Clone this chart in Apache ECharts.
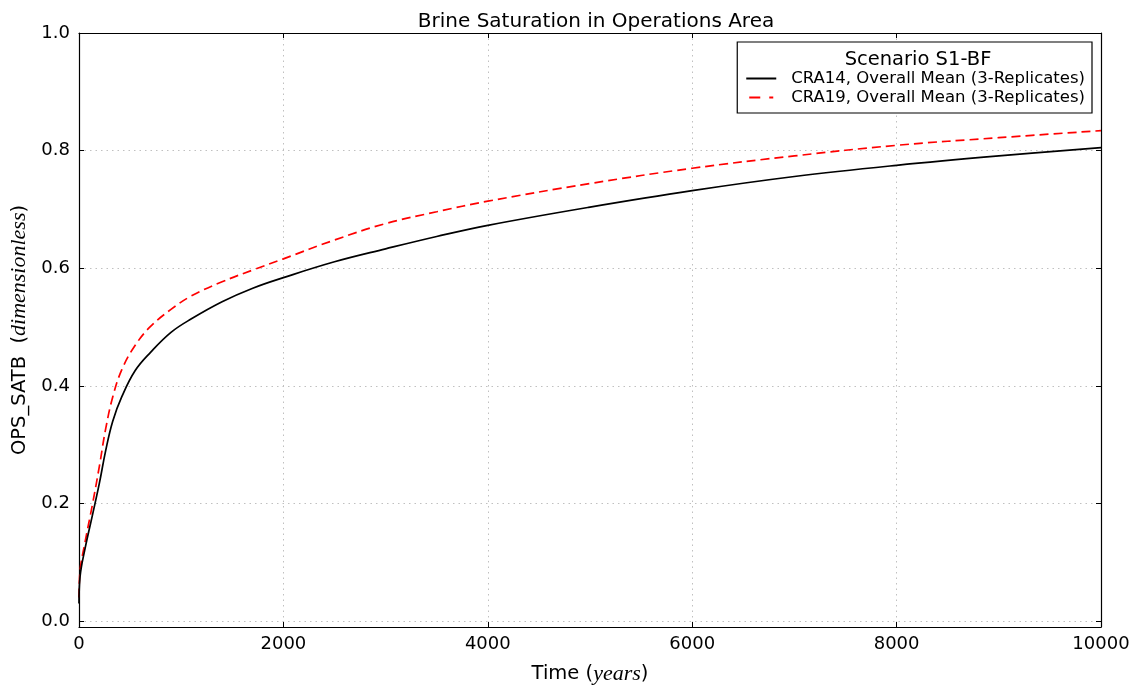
<!DOCTYPE html>
<html>
<head>
<meta charset="utf-8">
<script src="https://cdn.jsdelivr.net/npm/echarts@6/dist/echarts.min.js"></script>
<style>
  html, body { margin: 0; padding: 0; background: #fff; }
  #chart { width: 1138px; height: 686px; }
</style>
</head>
<body>
<div id="chart"></div>
<script>
// Simulation time (years)
const years = [0, 10, 60, 130, 200, 260, 330, 420, 550, 700, 900, 1100, 1400, 1700,
  2000, 2500, 3000, 3500, 4000, 5000, 6000, 7000, 8000, 9000, 10000];
// Overall mean brine saturation, CRA14
const cra14 = [0.030, 0.075, 0.124, 0.179, 0.235, 0.289, 0.340, 0.382, 0.426, 0.457, 0.491, 0.514, 0.543, 0.566,
  0.584, 0.611, 0.633, 0.654, 0.673, 0.704, 0.732, 0.756, 0.775, 0.791, 0.805];
// Overall mean brine saturation, CRA19
const cra19 = [0.040, 0.085, 0.135, 0.197, 0.264, 0.326, 0.381, 0.428, 0.469, 0.501, 0.530, 0.553, 0.577, 0.597,
  0.616, 0.648, 0.676, 0.696, 0.714, 0.744, 0.770, 0.791, 0.809, 0.822, 0.834];
const seriesNames = ['CRA14, Overall Mean (3-Replicates)', 'CRA19, Overall Mean (3-Replicates)'];
const yTicks = [0, 0.2, 0.4, 0.6, 0.8, 1.0];

const pair = (xs, ys) => xs.map((x, i) => [x, ys[i]]);

const FONT = 'DejaVu Sans';
const gridLine = { show: true, lineStyle: { color: '#c0c0c0', type: [1.5, 4], width: 1 } };
const frameLine = { show: true, onZero: false, lineStyle: { color: '#000', width: 1.2 } };
const innerTick = { show: true, inside: true, length: 5, lineStyle: { color: '#000', width: 1 } };

const chart = echarts.init(document.getElementById('chart'), null, { renderer: 'canvas' });
chart.setOption({
  backgroundColor: '#fff',
  animation: false,
  title: [
    {
      text: 'Brine Saturation in Operations Area',
      left: 591, top: 7, textAlign: 'center',
      textStyle: { fontFamily: FONT, fontSize: 20, fontWeight: 'normal', color: '#000' }
    },
    {
      text: 'Scenario S1-BF',
      left: 913, top: 45, textAlign: 'center',
      textStyle: { fontFamily: FONT, fontSize: 19.5, fontWeight: 'normal', color: '#000' }
    }
  ],
  grid: { left: 79, right: 37, top: 33, bottom: 59, containLabel: false, outerBoundsMode: 'none' },
  legend: {
    right: 46, top: 42,
    orient: 'vertical',
    padding: [28, 7, 7, 9],
    itemGap: 2,
    itemWidth: 30,
    itemHeight: 2,
    borderColor: '#000', borderWidth: 1.2, borderRadius: 0,
    backgroundColor: '#fff',
    textStyle: { fontFamily: FONT, fontSize: 16.5, color: '#000', padding: [0, 0, 0, 10] },
    data: [
      { name: seriesNames[0], icon: 'path://M0,0h30v2h-30z' },
      { name: seriesNames[1], icon: 'path://M0,0h11v2h-11zM20,0h4v2h-4z' }
    ]
  },
  xAxis: [
    {
      type: 'value', min: 0, max: 10000, interval: 2000,
      name: '{a|Time (}{b|years}{a|)}',
      nameLocation: 'middle', nameGap: 36,
      nameTextStyle: {
        rich: {
          a: { fontFamily: FONT, fontSize: 19.5, color: '#000' },
          b: { fontFamily: 'Liberation Serif', fontStyle: 'italic', fontSize: 22, color: '#000' }
        }
      },
      axisLine: frameLine, axisTick: innerTick,
      axisLabel: { fontFamily: FONT, fontSize: 18, color: '#000', margin: 8, formatter: v => String(v) },
      splitLine: gridLine
    },
    {
      type: 'value', position: 'top', min: 0, max: 10000, interval: 2000,
      axisLine: frameLine, axisTick: innerTick,
      axisLabel: { show: false }, splitLine: { show: false }
    }
  ],
  yAxis: [
    {
      type: 'value', min: -0.01, max: 1.0,
      name: '{a|OPS_SATB  (}{b|dimensionless}{a|)}',
      nameLocation: 'middle', nameGap: 47, nameRotate: 90,
      nameTextStyle: {
        rich: {
          a: { fontFamily: FONT, fontSize: 19.5, color: '#000' },
          b: { fontFamily: 'Liberation Serif', fontStyle: 'italic', fontSize: 22, color: '#000' }
        }
      },
      axisLine: frameLine,
      axisTick: Object.assign({}, innerTick, { customValues: yTicks }),
      axisLabel: {
        fontFamily: FONT, fontSize: 18, color: '#000', margin: 9,
        customValues: yTicks,
        formatter: v => v.toFixed(1)
      },
      splitLine: gridLine
    },
    {
      type: 'value', position: 'right', min: -0.01, max: 1.0,
      axisLine: frameLine,
      axisTick: Object.assign({}, innerTick, { customValues: yTicks }),
      axisLabel: { show: false, customValues: yTicks }, splitLine: { show: false }
    }
  ],
  series: [
    {
      name: seriesNames[0], type: 'line',
      data: pair(years, cra14),
      showSymbol: false, symbol: 'none',
      smooth: 0.4,
      color: '#000',
      lineStyle: { color: '#000', width: 1.7 },
      z: 3
    },
    {
      name: seriesNames[1], type: 'line',
      data: pair(years, cra19),
      showSymbol: false, symbol: 'none',
      smooth: 0.4,
      color: '#ff0000',
      lineStyle: { color: '#ff0000', width: 1.7, type: [9, 5] },
      z: 2
    }
  ]
});
</script>
</body>
</html>
